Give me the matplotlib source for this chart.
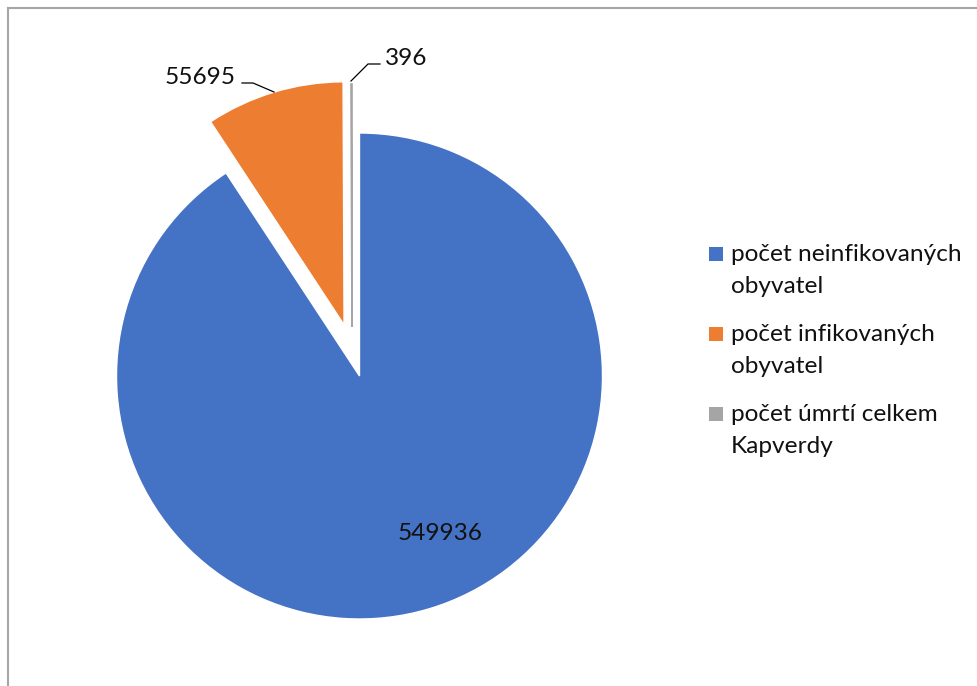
import matplotlib.pyplot as plt
from matplotlib.lines import Line2D
from matplotlib.patches import Rectangle

# Data
labels = ['počet neinfikovaných\nobyvatel', 'počet infikovaných\nobyvatel', 'počet úmrtí celkem\nKapverdy']
values = [549936, 55695, 396]
colors = ['#4472C4', '#ED7D31', '#A5A5A5']
explode = [0, 0.22, 0.21]

W, H = 977, 686
R = 243
CX, CY = 359.5, 376


def px(x, y):
    # pixel position -> pie data coordinates
    return (x - CX) / R, (CY - y) / R


plt.rcParams['font.family'] = ['Lato', 'DejaVu Sans']
fig = plt.figure(figsize=(W / 100, H / 100), dpi=100)
ax = fig.add_axes([(CX - 1.5 * R) / W, (H - CY - 1.5 * R) / H, 3 * R / W, 3 * R / H])

wedges, _ = ax.pie(values, colors=colors, explode=explode, startangle=90,
                   counterclock=False, radius=1,
                   wedgeprops=dict(edgecolor='white', linewidth=1))
wedges[2].set_edgecolor(colors[2])
wedges[2].set_linewidth(1.2)
wedges[2].set_center(px(352, 327))
ax.set_xlim(-1.5, 1.5)
ax.set_ylim(-1.5, 1.5)
ax.set_axis_off()

# data labels
fs = 17.6
ax.text(*px(440.5, 540), f'{values[0]}', ha='center', va='baseline', fontsize=fs, color='#111111')
ax.text(*px(236, 84), f'{values[1]}', ha='right', va='baseline', fontsize=fs, color='#111111')
ax.text(*px(385, 65), f'{values[2]}', ha='left', va='baseline', fontsize=fs, color='#111111')

lead1 = [px(242, 83), px(253, 83), px(274, 92)]
lead2 = [px(380, 64), px(368, 64), px(351, 81)]
for pts in (lead1, lead2):
    ax.plot([p[0] for p in pts], [p[1] for p in pts], color='black', lw=0.9, clip_on=False)

# legend (drawn by hand so the square sits on the first text line)
for i, (lab, col) in enumerate(zip(labels, colors)):
    base = 261 + 80 * i
    fig.add_artist(Rectangle((709 / W, 1 - base / H), 14 / W, 14 / H,
                             transform=fig.transFigure, facecolor=col, edgecolor='none'))
    for j, line in enumerate(lab.split('\n')):
        fig.text(731 / W, 1 - (base + 32 * j) / H, line, ha='left', va='baseline',
                 fontsize=fs, color='#111111')

# chart border
fig.add_artist(Line2D([8 / W, 8 / W], [0, 1 - 8 / H], transform=fig.transFigure,
                      color='#A6A6A6', lw=1.5))
fig.add_artist(Line2D([8 / W, 1], [1 - 8 / H, 1 - 8 / H], transform=fig.transFigure,
                      color='#A6A6A6', lw=1.5))

fig.savefig('out.png', dpi=100)
